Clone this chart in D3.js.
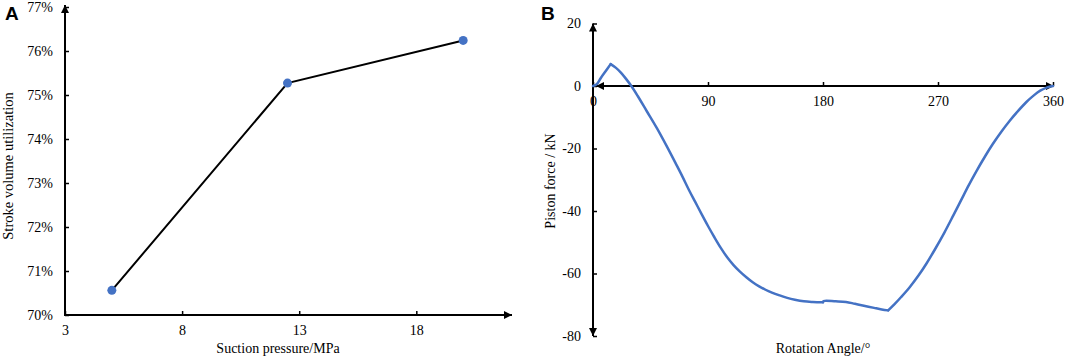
<!DOCTYPE html>
<html>
<head>
<meta charset="utf-8">
<script src="https://cdn.jsdelivr.net/npm/d3@7"></script>
<style>
  body { margin: 0; background: #fff; }
  svg text { font-family: "Times New Roman", "Liberation Serif", serif; fill: #000; }
</style>
</head>
<body>
<svg id="chart" width="1065" height="361"></svg>
<script>
// panel A: stroke volume utilization vs suction pressure
var pressure = [5, 12.5, 20];
var utilization = [70.56, 75.27, 76.24];
var xTicksA = [3, 8, 13, 18];
var yTicksA = [70, 71, 72, 73, 74, 75, 76, 77];

// panel B: piston force over one revolution
var angle = [0, 3, 6, 10, 13.8, 18, 22, 26, 30, 35, 42, 50, 58, 65, 70, 75, 80, 85, 90, 95,
             100, 105, 110, 115, 120, 125, 130, 135, 140, 146, 152, 158, 165, 172, 180, 180.5,
             190, 198, 205, 212, 220, 226, 231, 236, 241, 248, 255, 261, 268, 275, 282, 288,
             294, 300, 307, 313, 320, 326, 332, 339, 345, 350, 355, 360];
var force = [0, 0.6, 2.5, 4.8, 7.0, 5.8, 4.2, 2.2, 0, -3.2, -8, -13.5, -19.5, -25, -29, -33.2, -37.1, -41, -44.8, -48.4,
             -51.8, -54.8, -57.3, -59.4, -61.2, -62.8, -64.1, -65.2, -66.1, -67.0, -67.8, -68.4, -68.9, -69.1, -69.2, -68.8,
             -68.9, -69.1, -69.7, -70.3, -71, -71.5, -71.8, -69.8, -67.6, -64.3, -60.5, -56.8, -52.0, -46.9, -41.4, -36.6,
             -31.8, -27.3, -22.4, -18.5, -14.4, -11.2, -8.3, -5.2, -3.0, -1.5, -0.5, 0];
// angles where the curve has a corner (suction/discharge valve events)
var cornerAngles = [13.8, 180, 231];
var xTicksB = [0, 90, 180, 270, 360];
var yTicksB = [20, 0, -20, -40, -60, -80];

var svg = d3.select("#chart");
var blue = "#4472C4";

// arrow heads
var defs = svg.append("defs");
defs.append("marker")
    .attr("id", "arrow")
    .attr("markerUnits", "userSpaceOnUse")
    .attr("viewBox", "0 0 10 10")
    .attr("refX", 10).attr("refY", 5)
    .attr("markerWidth", 10).attr("markerHeight", 8)
    .attr("orient", "auto-start-reverse")
    .append("path")
    .attr("d", "M0,0 L10,5 L0,10 z")
    .attr("fill", "#000");

function styleAxis(g) {
    g.attr("font-family", null).attr("font-size", null);
    g.select(".domain").remove();
    g.selectAll(".tick line").attr("stroke", "#000").attr("stroke-width", 1.5);
    g.selectAll("text").style("font-size", "14px");
}

// ---------- Panel A ----------
var xA = d3.scaleLinear().domain([3, 22]).range([65, 510]);
var yA = d3.scaleLinear().domain([70, 77]).range([315, 7]);

svg.append("g")
    .attr("transform", "translate(0,315)")
    .call(d3.axisBottom(xA).tickValues(xTicksA).tickSizeInner(-4).tickSizeOuter(0).tickPadding(10))
    .call(styleAxis);

svg.append("g")
    .attr("transform", "translate(65,0)")
    .call(d3.axisLeft(yA).tickValues(yTicksA).tickFormat(d => d + "%").tickSizeInner(-4).tickSizeOuter(0).tickPadding(12))
    .call(styleAxis);

svg.append("line")
    .attr("x1", 64).attr("y1", 315).attr("x2", 512).attr("y2", 315)
    .attr("stroke", "#000").attr("stroke-width", 2)
    .attr("marker-end", "url(#arrow)");
svg.append("line")
    .attr("x1", 65).attr("y1", 316).attr("x2", 65).attr("y2", 5)
    .attr("stroke", "#000").attr("stroke-width", 2)
    .attr("marker-end", "url(#arrow)");

var ptsA = pressure.map((p, i) => [p, utilization[i]]);
svg.append("path")
    .datum(ptsA)
    .attr("fill", "none")
    .attr("stroke", "#000")
    .attr("stroke-width", 2)
    .attr("d", d3.line().x(d => xA(d[0])).y(d => yA(d[1])));

svg.selectAll(".dotA")
    .data(ptsA)
    .join("circle")
    .attr("class", "dotA")
    .attr("cx", d => xA(d[0]))
    .attr("cy", d => yA(d[1]))
    .attr("r", 4.5)
    .attr("fill", blue);

svg.append("text")
    .attr("x", 278).attr("y", 353)
    .attr("text-anchor", "middle")
    .style("font-size", "14px")
    .text("Suction pressure/MPa");

svg.append("text")
    .attr("transform", "translate(13,166) rotate(-90)")
    .attr("text-anchor", "middle")
    .style("font-size", "14.5px")
    .text("Stroke volume utilization");

svg.append("text")
    .attr("x", 5).attr("y", 20)
    .style("font-family", "Arial, 'Liberation Sans', sans-serif")
    .style("font-weight", "bold")
    .style("font-size", "19px")
    .text("A");

// ---------- Panel B ----------
var xB = d3.scaleLinear().domain([0, 360]).range([593, 1053]);
var yB = d3.scaleLinear().domain([-80, 20]).range([336, 23.5]);

svg.append("g")
    .attr("transform", "translate(0," + yB(0) + ")")
    .call(d3.axisBottom(xB).tickValues(xTicksB).tickSizeInner(-4).tickSizeOuter(0).tickPadding(10))
    .call(styleAxis);

svg.append("g")
    .attr("transform", "translate(593,0)")
    .call(d3.axisLeft(yB).tickValues(yTicksB).tickFormat(d => String(d)).tickSizeInner(-4).tickSizeOuter(0).tickPadding(12))
    .call(styleAxis);

svg.append("line")
    .attr("x1", 593).attr("y1", yB(-80)).attr("x2", 593).attr("y2", yB(20))
    .attr("stroke", "#000").attr("stroke-width", 2)
    .attr("marker-start", "url(#arrow)")
    .attr("marker-end", "url(#arrow)");
svg.append("line")
    .attr("x1", 594).attr("y1", yB(0)).attr("x2", 1054).attr("y2", yB(0))
    .attr("stroke", "#000").attr("stroke-width", 2)
    .attr("marker-end", "url(#arrow)");
// small back arrow at the origin
svg.append("line")
    .attr("x1", 606).attr("y1", yB(0)).attr("x2", 596).attr("y2", yB(0))
    .attr("stroke", "#000").attr("stroke-width", 1)
    .attr("marker-end", "url(#arrow)");

// split the curve at its corners, smooth each piece
var ptsB = angle.map((a, i) => [a, force[i]]);
var pieces = [];
var start = 0;
ptsB.forEach((p, i) => {
    if (i > 0 && (cornerAngles.indexOf(p[0]) >= 0 || i == ptsB.length - 1)) {
        pieces.push(ptsB.slice(start, i + 1));
        start = i;
    }
});
var lineB = d3.line()
    .x(d => xB(d[0]))
    .y(d => yB(d[1]))
    .curve(d3.curveCatmullRom.alpha(0.5));

svg.selectAll(".pieceB")
    .data(pieces)
    .join("path")
    .attr("class", "pieceB")
    .attr("fill", "none")
    .attr("stroke", blue)
    .attr("stroke-width", 2.5)
    .attr("stroke-linejoin", "round")
    .attr("stroke-linecap", "round")
    .attr("d", lineB);

svg.append("text")
    .attr("x", 823).attr("y", 353)
    .attr("text-anchor", "middle")
    .style("font-size", "14px")
    .text("Rotation Angle/°");

svg.append("text")
    .attr("transform", "translate(555,181) rotate(-90)")
    .attr("text-anchor", "middle")
    .style("font-size", "14px")
    .text("Piston force / kN");

svg.append("text")
    .attr("x", 541).attr("y", 20)
    .style("font-family", "Arial, 'Liberation Sans', sans-serif")
    .style("font-weight", "bold")
    .style("font-size", "19px")
    .text("B");
</script>
</body>
</html>
